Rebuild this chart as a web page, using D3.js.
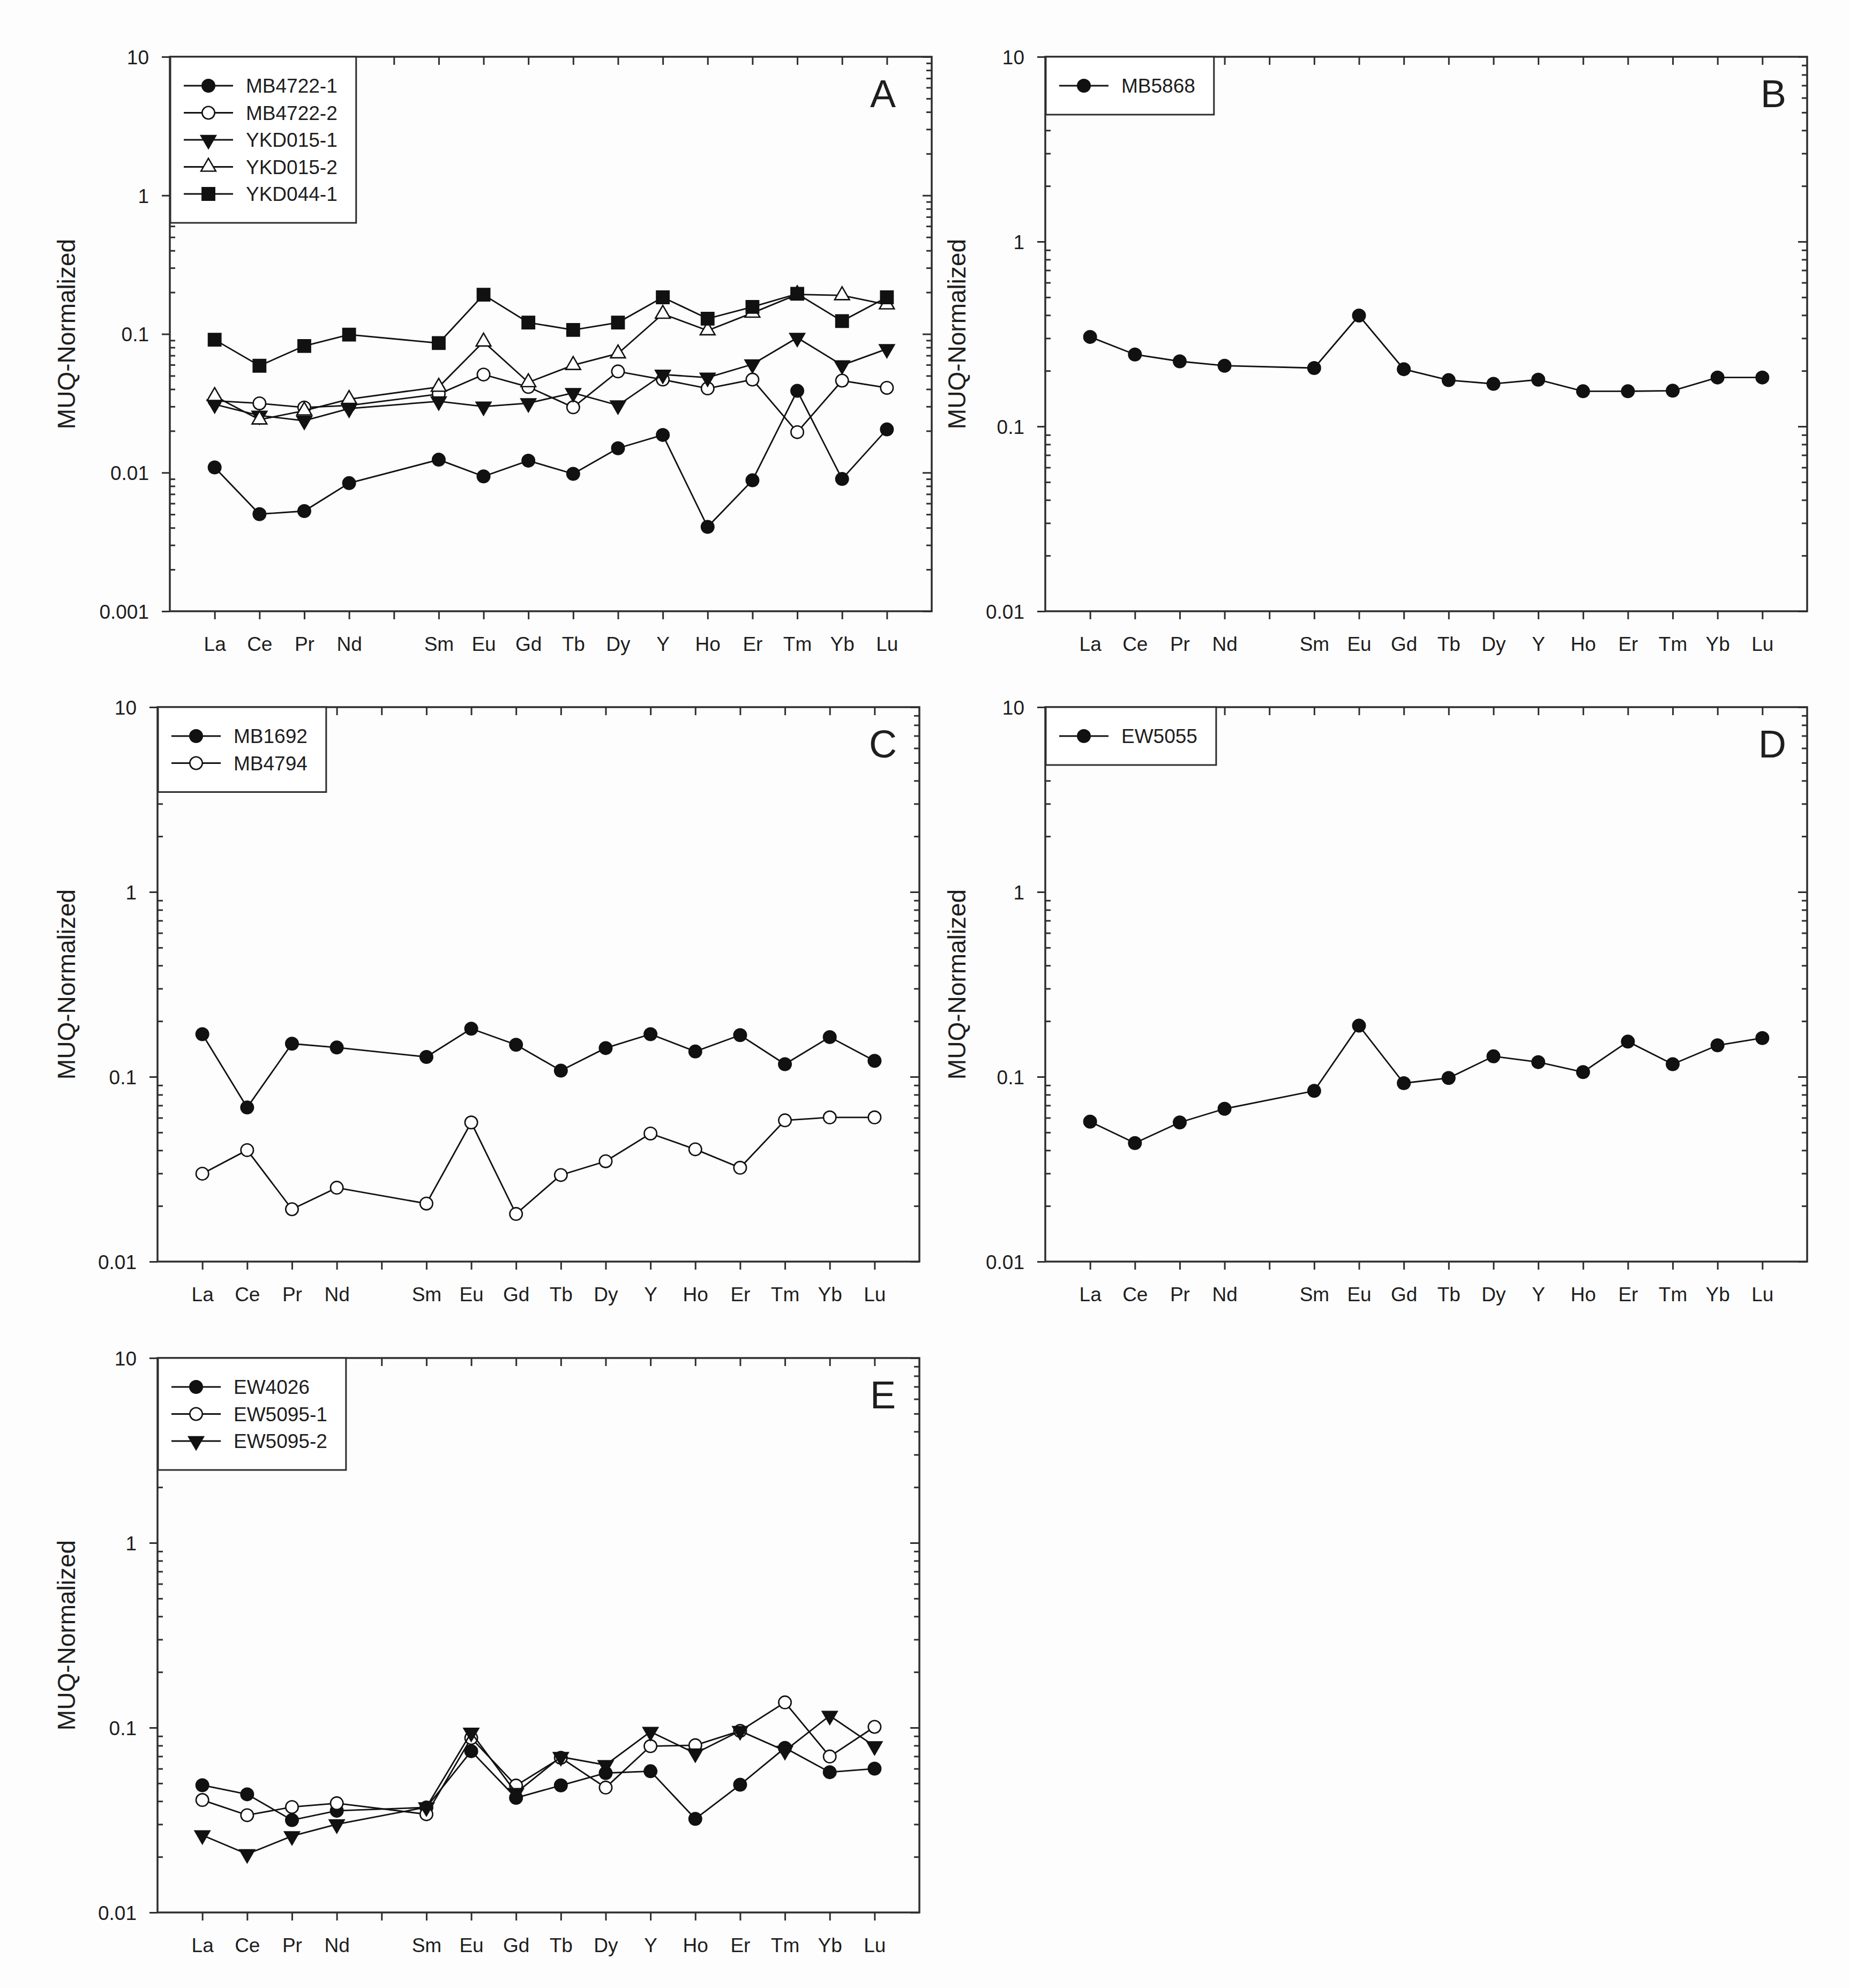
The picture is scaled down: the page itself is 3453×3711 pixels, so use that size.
<!DOCTYPE html>
<html>
<head>
<meta charset="utf-8">
<script src="https://cdn.jsdelivr.net/npm/d3@7"></script>
<style>
  body { margin: 0; background: #fdfdfd; }
  text { font-family: "Liberation Sans", Arial, sans-serif; fill: #1e1e1e; }
</style>
</head>
<body>
<svg id="fig"></svg>
<script>
// element order on the x axis; '_gap' is an empty slot between Nd and Sm
const slots = ['La', 'Ce', 'Pr', 'Nd', '_gap', 'Sm', 'Eu', 'Gd', 'Tb', 'Dy', 'Y', 'Ho', 'Er', 'Tm', 'Yb', 'Lu'];
const ree = ['La', 'Ce', 'Pr', 'Nd', 'Sm', 'Eu', 'Gd', 'Tb', 'Dy', 'Y', 'Ho', 'Er', 'Tm', 'Yb', 'Lu'];

// panel A
const MB4722_1 = [0.0109, 0.00502, 0.00528, 0.0084, 0.0124, 0.0094, 0.0122, 0.0098, 0.0150, 0.0187, 0.00406, 0.0088, 0.0389, 0.0090, 0.0205];
const MB4722_2 = [0.033, 0.0316, 0.0295, 0.0305, 0.0369, 0.051, 0.0415, 0.0296, 0.0537, 0.0469, 0.0405, 0.0469, 0.0196, 0.0461, 0.0409];
const YKD015_1 = [0.0311, 0.0258, 0.0237, 0.029, 0.0327, 0.030, 0.0317, 0.0376, 0.0306, 0.051, 0.0485, 0.0605, 0.094, 0.0596, 0.078];
const YKD015_2 = [0.0356, 0.0241, 0.028, 0.0339, 0.0415, 0.088, 0.0448, 0.0596, 0.0723, 0.1396, 0.106, 0.142, 0.193, 0.19, 0.163];
const YKD044_1 = [0.091, 0.059, 0.082, 0.099, 0.086, 0.192, 0.121, 0.107, 0.121, 0.184, 0.129, 0.157, 0.195, 0.124, 0.184];
// panel B
const MB5868 = [0.305, 0.245, 0.225, 0.213, 0.207, 0.398, 0.204, 0.178, 0.170, 0.179, 0.155, 0.155, 0.156, 0.184, 0.184];
// panel C
const MB1692 = [0.170, 0.0682, 0.151, 0.144, 0.128, 0.182, 0.149, 0.108, 0.143, 0.170, 0.137, 0.168, 0.117, 0.164, 0.122];
const MB4794 = [0.0299, 0.0401, 0.0192, 0.0251, 0.0206, 0.0566, 0.0181, 0.0294, 0.0349, 0.0493, 0.0405, 0.0322, 0.0581, 0.0603, 0.0603];
// panel D
const EW5055 = [0.0572, 0.0438, 0.0566, 0.0671, 0.0839, 0.189, 0.0923, 0.0985, 0.129, 0.120, 0.106, 0.155, 0.117, 0.148, 0.162];
// panel E
const EW4026 = [0.0488, 0.0436, 0.0316, 0.0355, 0.037, 0.0746, 0.0417, 0.0487, 0.0568, 0.0581, 0.0321, 0.0491, 0.0777, 0.0574, 0.060];
const EW5095_1 = [0.0406, 0.0336, 0.0372, 0.039, 0.034, 0.0879, 0.0486, 0.0687, 0.0474, 0.0794, 0.0803, 0.096, 0.137, 0.0698, 0.101];
const EW5095_2 = [0.0262, 0.0207, 0.0259, 0.030, 0.0371, 0.094, 0.0444, 0.0695, 0.0628, 0.095, 0.0726, 0.096, 0.075, 0.116, 0.0794];

const panels = [
  { letter: 'A', left: 317, top: 106, titleX: 123, letterX: 1648, yMin: 0.001,
    series: [
      { name: 'MB4722-1', values: MB4722_1, sym: 'circle', filled: true },
      { name: 'MB4722-2', values: MB4722_2, sym: 'circle', filled: false },
      { name: 'YKD015-1', values: YKD015_1, sym: 'down', filled: true },
      { name: 'YKD015-2', values: YKD015_2, sym: 'up', filled: false },
      { name: 'YKD044-1', values: YKD044_1, sym: 'square', filled: true }
    ] },
  { letter: 'B', left: 1951, top: 106, titleX: 1785, letterX: 3310, yMin: 0.01,
    series: [{ name: 'MB5868', values: MB5868, sym: 'circle', filled: true }] },
  { letter: 'C', left: 294, top: 1320, titleX: 123, letterX: 1648, yMin: 0.01,
    series: [
      { name: 'MB1692', values: MB1692, sym: 'circle', filled: true },
      { name: 'MB4794', values: MB4794, sym: 'circle', filled: false }
    ] },
  { letter: 'D', left: 1951, top: 1320, titleX: 1785, letterX: 3308, yMin: 0.01,
    series: [{ name: 'EW5055', values: EW5055, sym: 'circle', filled: true }] },
  { letter: 'E', left: 294, top: 2535, titleX: 123, letterX: 1648, yMin: 0.01,
    series: [
      { name: 'EW4026', values: EW4026, sym: 'circle', filled: true },
      { name: 'EW5095-1', values: EW5095_1, sym: 'circle', filled: false },
      { name: 'EW5095-2', values: EW5095_2, sym: 'down', filled: true }
    ] }
];

let width = 3453, height = 3711;
let plotW = 1422, plotH = 1035;
let fs = 37;
let frameColor = '#2e2e2e';

let svg = d3.select('#fig').attr('width', width).attr('height', height);
svg.append('rect').attr('width', width).attr('height', height).attr('fill', '#fdfdfd');

let symbols = {
  circle: d3.symbol().type(d3.symbolCircle).size(430),
  square: d3.symbol().type(d3.symbolSquare).size(540),
  up: d3.symbol().type(d3.symbolTriangle).size(330),
  down: d3.symbol().type(d3.symbolTriangle).size(330)
};

function drawMarker(sel, s) {
  sel
    .attr('d', symbols[s.sym]())
    .attr('fill', s.filled ? '#111' : '#fff')
    .attr('stroke', '#111')
    .attr('stroke-width', 2.6);
  if (s.sym == 'down') sel.attr('transform', sel.attr('transform') + ' rotate(180)');
}

panels.forEach((p) => {
  let g = svg.append('g').attr('transform', `translate(${p.left},${p.top})`);

  let x = d3.scalePoint().domain(slots).range([0, plotW]).padding(1);
  let y = d3.scaleLog().domain([p.yMin, 10]).range([plotH, 0]);

  let decades = d3.range(Math.round(Math.log10(p.yMin)), 2).map((e) => Math.pow(10, e));
  let minors = [];
  decades.slice(0, -1).forEach((d) => {
    for (let k = 2; k <= 9; k++) minors.push(d * k);
  });

  // minor ticks inside on left and right
  g.append('g').call(d3.axisLeft(y).tickValues(minors).tickSize(-10).tickFormat(''));
  g.append('g').attr('transform', `translate(${plotW},0)`)
    .call(d3.axisRight(y).tickValues(minors).tickSize(-10).tickFormat(''));
  g.append('g').attr('transform', `translate(${plotW},0)`)
    .call(d3.axisRight(y).tickValues(decades).tickSize(-17).tickFormat(''));

  // major ticks outside with labels
  let yAxis = g.append('g')
    .call(d3.axisLeft(y).tickValues(decades).tickSize(15).tickPadding(24).tickFormat((d) => String(d)));
  yAxis.selectAll('text').attr('font-size', fs).attr('dy', '0.36em');

  let xAxis = g.append('g').attr('transform', `translate(0,${plotH})`)
    .call(d3.axisBottom(x).tickSize(15).tickFormat((d) => (d.startsWith('_') ? '' : d)));
  xAxis.selectAll('text').attr('font-size', fs).attr('y', 74).attr('dy', 0);

  g.append('g').call(d3.axisTop(x).tickSize(-15).tickFormat(''));

  g.selectAll('.domain').remove();
  g.selectAll('.tick line').attr('stroke', frameColor).attr('stroke-width', 3);

  // frame
  g.append('rect')
    .attr('width', plotW).attr('height', plotH)
    .attr('fill', 'none').attr('stroke', frameColor).attr('stroke-width', 3.5);

  // y title
  g.append('text')
    .attr('transform', `translate(${p.titleX - p.left},${plotH / 2}) rotate(-90)`)
    .attr('text-anchor', 'middle')
    .attr('dy', '0.36em')
    .attr('font-size', 46)
    .text('MUQ-Normalized');

  // data
  let line = d3.line()
    .x((d, i) => x(ree[i]))
    .y((d) => y(d));

  p.series.forEach((s) => {
    g.append('path')
      .attr('d', line(s.values))
      .attr('fill', 'none')
      .attr('stroke', '#111')
      .attr('stroke-width', 2.8);

    g.append('g')
      .selectAll('path')
      .data(s.values)
      .join('path')
      .attr('transform', (d, i) => `translate(${x(ree[i])},${y(d)})`)
      .each(function () {
        drawMarker(d3.select(this), s);
      });
  });

  // legend
  let leg = g.append('g');
  let box = leg.append('rect')
    .attr('fill', '#fff').attr('stroke', frameColor).attr('stroke-width', 3);
  let maxLen = 0;
  p.series.forEach((s, i) => {
    let cy = 54 + i * 50.5;
    leg.append('line')
      .attr('x1', 26).attr('x2', 118).attr('y1', cy).attr('y2', cy)
      .attr('stroke', '#111').attr('stroke-width', 2.8);
    leg.append('path')
      .attr('transform', `translate(72,${cy})`)
      .call((sel) => drawMarker(sel, s));
    let t = leg.append('text')
      .attr('x', 142).attr('y', cy).attr('dy', '0.36em')
      .attr('font-size', fs)
      .text(s.name);
    maxLen = Math.max(maxLen, t.node().getComputedTextLength());
  });
  box.attr('x', 1).attr('y', 0)
    .attr('width', 142 + maxLen + 34)
    .attr('height', 54 + (p.series.length - 1) * 50.5 + 54);

  // panel letter
  g.append('text')
    .attr('x', p.letterX - p.left).attr('y', 94)
    .attr('text-anchor', 'middle')
    .attr('font-size', 72)
    .text(p.letter);
});
</script>
</body>
</html>
